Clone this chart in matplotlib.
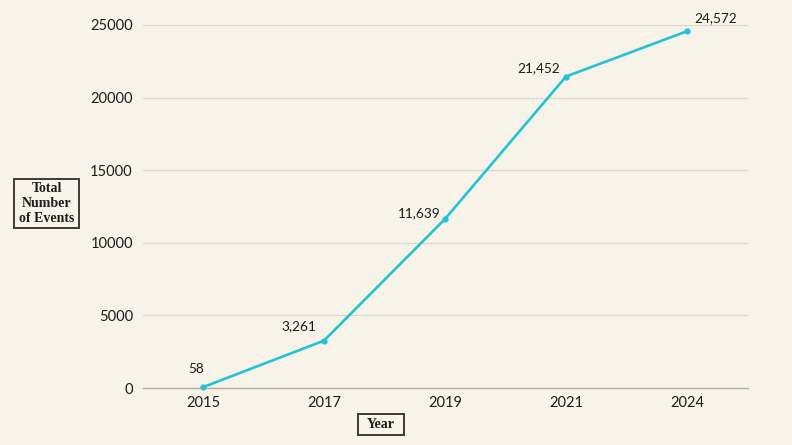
import matplotlib
matplotlib.use("Agg")
import matplotlib.pyplot as plt
import matplotlib.patches as patches

years = ["2015", "2017", "2019", "2021", "2024"]
events = [58, 3261, 11639, 21452, 24572]
yticks = [0, 5000, 10000, 15000, 20000, 25000]
# label offsets in pixels (dx, dy) from each point
label_offsets = [(-7, 18), (-25, 14), (-26, 6), (-27, 8), (29, 13)]

bg = "#f7f3e9"
line_col = "#22c3d3"
text_col = "#1c1c1c"
W, H = 792, 445

plt.rcParams["font.family"] = ["Lato", "DejaVu Sans"]

fig = plt.figure(figsize=(7.92, 4.45), dpi=100, facecolor=bg)
ax = fig.add_axes([142.5 / W, 1 - 388 / H, (747.5 - 142.5) / W, 363 / H])
ax.set_facecolor(bg)

x = list(range(len(years)))
ax.plot(x, events, color=line_col, linewidth=1.9, marker="o", markersize=3.5,
        clip_on=False, zorder=3)

for xi, v, (dx, dy) in zip(x, events, label_offsets):
    ax.annotate(f"{v:,}", (xi, v), xytext=(dx, dy), textcoords="offset pixels",
                ha="center", va="center", fontsize=9.8, color=text_col)

ax.set_xlim(-0.5, len(years) - 0.5)
ax.set_ylim(0, 25000)
ax.set_xticks(x)
ax.set_xticklabels(years)
ax.set_yticks(yticks)
ax.set_yticklabels([str(t) for t in yticks])
ax.tick_params(axis="both", length=0, labelsize=10.5, colors=text_col)
ax.tick_params(axis="y", pad=7)
ax.tick_params(axis="x", pad=6)

ax.grid(axis="y", color="#ddd8cc", linewidth=0.9)
ax.set_axisbelow(True)
for s in ["top", "right", "left"]:
    ax.spines[s].set_visible(False)
ax.spines["bottom"].set_color("#b3ada0")
ax.spines["bottom"].set_linewidth(1.0)


def boxed_label(text, x0, y0, x1, y1, **kw):
    # box given in pixel coords (top-left origin)
    rect = patches.Rectangle((x0 / W, 1 - y1 / H), (x1 - x0) / W, (y1 - y0) / H,
                             transform=fig.transFigure, facecolor=bg,
                             edgecolor="#3a3a3a", linewidth=1.4)
    fig.patches.append(rect)
    fig.text((x0 + x1) / 2 / W, 1 - (y0 + y1) / 2 / H, text, ha="center", va="center",
             family="Liberation Serif", fontweight="bold", fontsize=10,
             color=text_col, **kw)


boxed_label("Total\nNumber\nof Events", 14, 179, 79, 228, linespacing=1.2)
boxed_label("Year", 358, 414, 404, 435)

fig.savefig("out.png", dpi=100, facecolor=bg)
